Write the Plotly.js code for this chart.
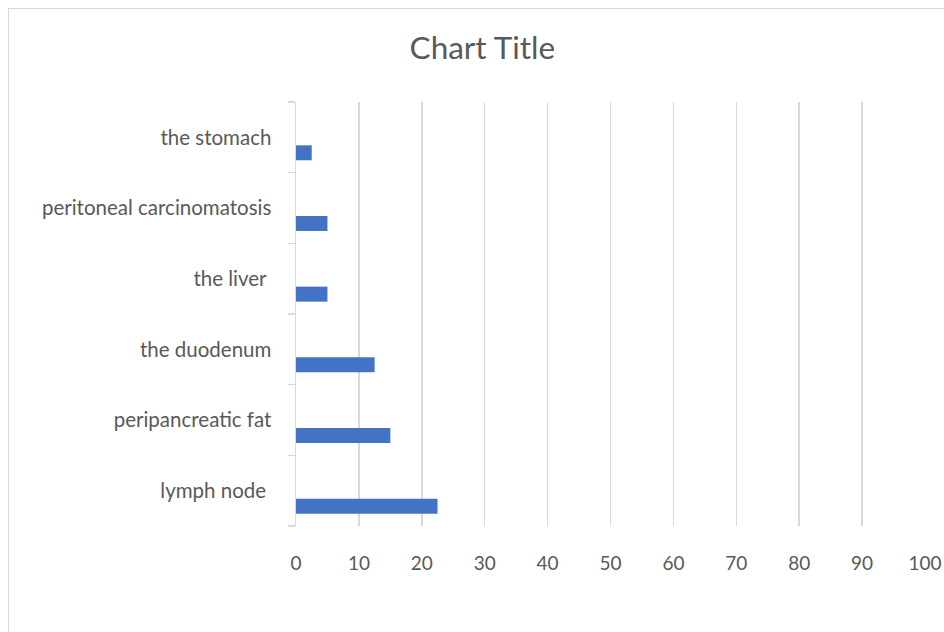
<!DOCTYPE html>
<html>
<head>
<meta charset="utf-8">
<script src="https://cdn.plot.ly/plotly-3.0.1.min.js"></script>
<style>
html,body{margin:0;padding:0;width:944px;height:632px;overflow:hidden;background:#fff;}
#chart{position:absolute;left:0;top:0;width:944px;height:632px;}
#frame{position:absolute;left:8px;top:8px;width:1000px;height:700px;border:1px solid #d9d9d9;box-sizing:border-box;pointer-events:none;}
</style>
</head>
<body>
<div id="chart"></div>
<div id="frame"></div>
<script>
const categories = ["lymph node\u00a0", "peripancreatic fat", "the duodenum", "the liver\u00a0", "peritoneal carcinomatosis", "the stomach"];
const values = [22.5, 15, 12.5, 5, 5, 2.5];
const xTicks = [0, 10, 20, 30, 40, 50, 60, 70, 80, 90, 100];

const trace = {
  type: 'bar',
  orientation: 'h',
  x: values,
  y: categories,
  width: 0.212,
  offset: -0.325,
  marker: {color: '#4472c4'},
  hoverinfo: 'x+y'
};

const fontFam = 'Lato, "Open Sans", sans-serif';
const layout = {
  width: 944, height: 632,
  margin: {l: 295.5, r: 19, t: 101.7, b: 106, pad: 0},
  paper_bgcolor: 'rgba(0,0,0,0)',
  plot_bgcolor: '#ffffff',
  showlegend: false,
  title: {text: 'Chart Title', font: {family: fontFam, size: 31.5, color: '#595959'}, x: 0.511, xanchor: 'center', y: 0.924, yanchor: 'middle'},
  xaxis: {
    range: [0, 100],
    tickvals: xTicks,
    ticktext: xTicks.map(String),
    showgrid: true, gridcolor: '#d9d9d9', gridwidth: 1.5,
    zeroline: false, showline: false, ticks: '',
    tickfont: {family: fontFam, size: 19, color: '#595959'},
    ticklabelstandoff: 24,
    fixedrange: true
  },
  yaxis: {
    type: 'category',
    categoryorder: 'array', categoryarray: categories,
    range: [-0.5, 5.5],
    showline: true, linecolor: '#d9d9d9', linewidth: 1.5,
    showgrid: false, zeroline: false,
    ticks: 'outside', tickson: 'boundaries', ticklen: 7, tickcolor: '#d9d9d9', tickwidth: 1.5,
    tickfont: {family: fontFam, size: 20.5, color: '#595959'},
    ticklabelstandoff: 19,
    fixedrange: true
  },
  bargap: 0.2
};

Plotly.newPlot('chart', [trace], layout, {displayModeBar: false, staticPlot: true});
</script>
</body>
</html>
